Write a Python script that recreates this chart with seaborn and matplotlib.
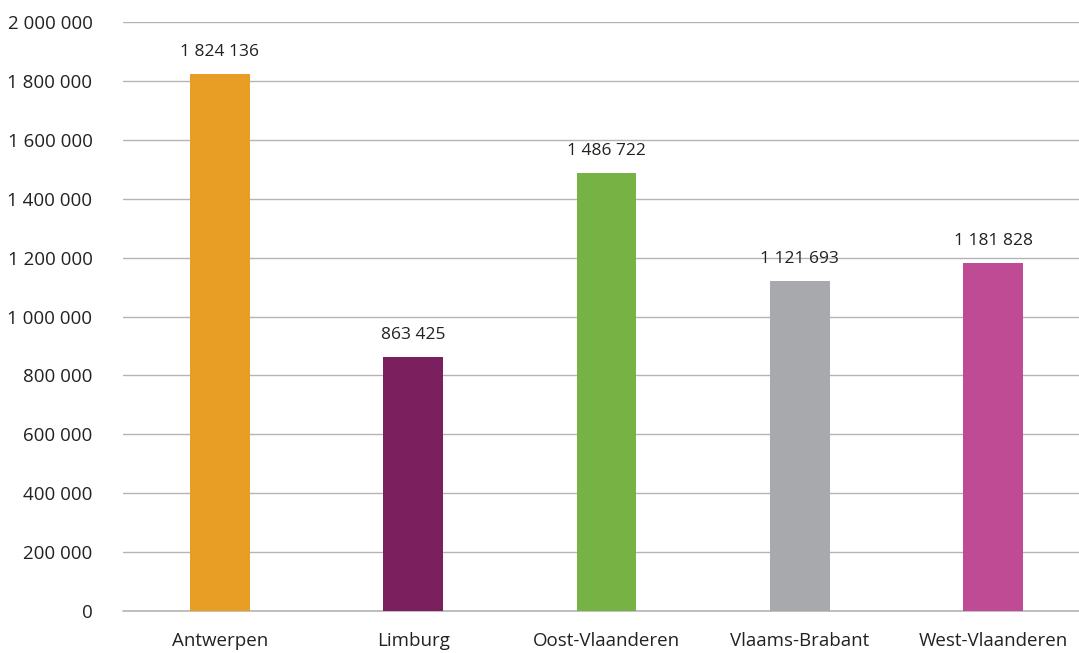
import pandas as pd
import seaborn as sns
import matplotlib.pyplot as plt

provinces = ['Antwerpen', 'Limburg', 'Oost-Vlaanderen', 'Vlaams-Brabant', 'West-Vlaanderen']
population = [1824136, 863425, 1486722, 1121693, 1181828]
colors = ['#E89E25', '#7B1F5E', '#76B244', '#A7A9AC', '#BE4B94']
yticks = [0, 200000, 400000, 600000, 800000, 1000000, 1200000, 1400000, 1600000, 1800000, 2000000]


def fmt(v):
    return f"{int(v):,}".replace(",", " ")


def main():
    df = pd.DataFrame({'Provincie': provinces, 'Inwoners': population})

    sns.set_style('white')
    plt.rcParams['font.family'] = ['Open Sans', 'DejaVu Sans']

    fig = plt.figure(figsize=(10.79, 6.53), dpi=100)
    ax = fig.add_axes([123 / 1079, 42 / 653, 956 / 1079, 589 / 653])

    sns.barplot(data=df, x='Provincie', y='Inwoners', hue='Provincie',
                palette=colors, legend=False, width=0.31, saturation=1,
                linewidth=0, ax=ax, zorder=3)

    for c in ax.containers:
        ax.bar_label(c, labels=[fmt(v) for v in c.datavalues],
                     padding=10, fontsize=12.5, color='#222222')

    ax.set_ylim(0, 2000000)
    ax.set_xlim(-0.5, 4.443)
    ax.set_yticks(yticks)
    ax.set_yticklabels([fmt(v) for v in yticks])
    ax.grid(axis='y', color='#B4B4B4', linewidth=1, zorder=0)
    ax.axhline(0, color='#B4B4B4', linewidth=1.2, zorder=2, clip_on=False)
    ax.set_axisbelow(True)
    for s in ax.spines.values():
        s.set_visible(False)
    ax.tick_params(axis='y', length=0, pad=22, labelsize=13.5, labelcolor='#222222')
    ax.tick_params(axis='x', length=0, pad=15, labelsize=13.5, labelcolor='#222222')
    ax.set_xlabel('')
    ax.set_ylabel('')

    fig.savefig('out.png', dpi=100)


if __name__ == "__main__":
    main()
